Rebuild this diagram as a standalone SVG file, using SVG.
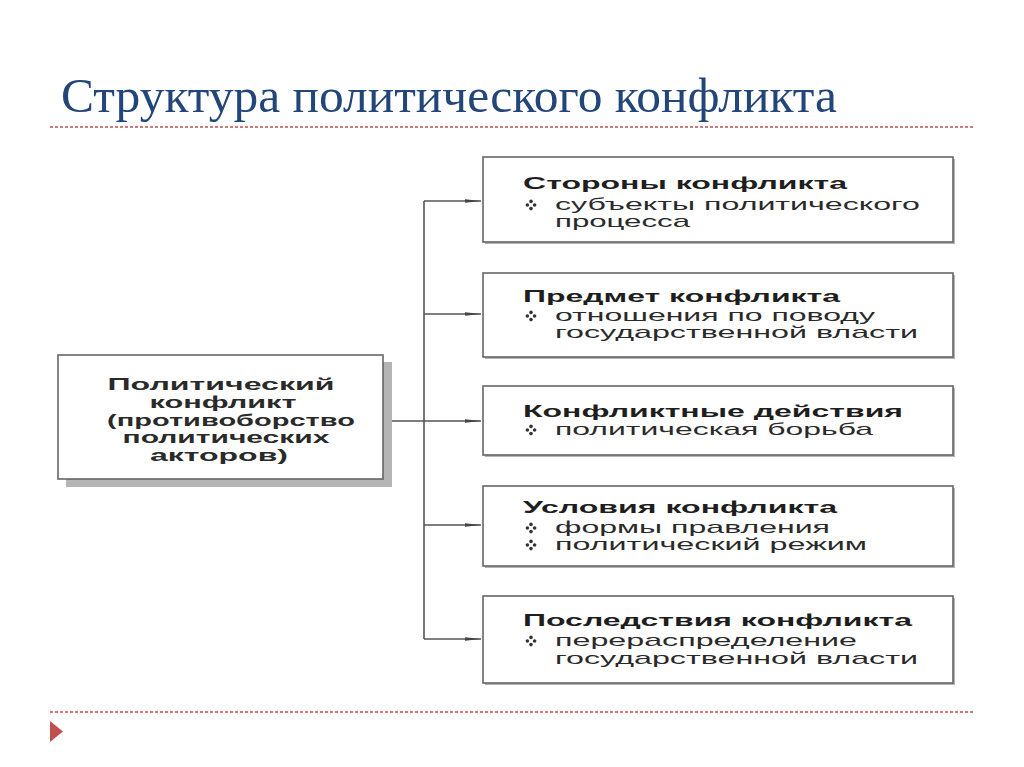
<svg xmlns="http://www.w3.org/2000/svg" width="1024" height="767" viewBox="0 0 1024 767">
<style>
.title{font-family:"Liberation Serif",serif;font-size:48px;fill:#22467a}
.sep{stroke:#c0504d;stroke-width:1.3;stroke-dasharray:3 2;fill:none}
.box{fill:#ffffff;stroke:#666666;stroke-width:1.6}
.bshadow{fill:#b5b5b5}
.h{font-family:"Liberation Sans",Arial,sans-serif;font-weight:bold;font-size:17px;fill:#1e1e1e}
.t{font-family:"Liberation Sans",Arial,sans-serif;font-size:17px;fill:#2a2a2a}
.c{font-family:"Liberation Sans",Arial,sans-serif;font-weight:bold;font-size:17px;fill:#2a2a2a;text-anchor:middle}
.conn{stroke:#555555;stroke-width:1.6;fill:none}
</style>
<defs>
<marker id="arr" viewBox="0 0 16 6" refX="16" refY="3" markerWidth="16" markerHeight="6" markerUnits="userSpaceOnUse" orient="auto">
<path d="M0,1.3 L16,3 L0,4.7 Z" fill="#444444"/>
</marker>
<g id="bul">
<circle cx="0" cy="-3.6" r="1.8" fill="#333"/>
<circle cx="0" cy="3.6" r="1.8" fill="#333"/>
<circle cx="-3.6" cy="0" r="1.8" fill="#333"/>
<circle cx="3.6" cy="0" r="1.8" fill="#333"/>
</g>
</defs>
<rect width="1024" height="767" fill="#ffffff"/>

<g id="title">
<text class="title" x="61" y="112" textLength="776" lengthAdjust="spacingAndGlyphs">Структура политического конфликта</text>
<line class="sep" x1="50" y1="127" x2="975" y2="127"/>
</g>

<g id="connectors">
<line class="conn" x1="383" y1="421" x2="424" y2="421"/>
<line class="conn" x1="424" y1="201" x2="424" y2="639"/>
<line class="conn" x1="424" y1="201" x2="481" y2="201" marker-end="url(#arr)"/>
<line class="conn" x1="424" y1="314" x2="481" y2="314" marker-end="url(#arr)"/>
<line class="conn" x1="424" y1="421" x2="481" y2="421" marker-end="url(#arr)"/>
<line class="conn" x1="424" y1="525" x2="481" y2="525" marker-end="url(#arr)"/>
<line class="conn" x1="424" y1="639" x2="481" y2="639" marker-end="url(#arr)"/>
</g>

<g id="main">
<rect class="bshadow" x="66" y="362" width="326" height="125"/>
<rect class="box" x="58" y="355" width="325" height="124"/>
<text class="c" x="221" y="390" textLength="227" lengthAdjust="spacingAndGlyphs">Политический</text>
<text class="c" x="223" y="408" textLength="147" lengthAdjust="spacingAndGlyphs">конфликт</text>
<text class="c" x="231" y="426" textLength="248" lengthAdjust="spacingAndGlyphs">(противоборство</text>
<text class="c" x="226" y="443" textLength="207" lengthAdjust="spacingAndGlyphs">политических</text>
<text class="c" x="219" y="461" textLength="138" lengthAdjust="spacingAndGlyphs">акторов)</text>
</g>

<g id="n1">
<rect class="bshadow" x="485" y="159" width="470" height="85"/>
<rect class="box" x="483" y="157" width="470" height="85"/>
<text class="h" x="523" y="189" textLength="324" lengthAdjust="spacingAndGlyphs">Стороны конфликта</text>
<use href="#bul" x="531" y="205"/>
<text class="t" x="555" y="210" textLength="365" lengthAdjust="spacingAndGlyphs">субъекты политического</text>
<text class="t" x="555" y="227" textLength="135" lengthAdjust="spacingAndGlyphs">процесса</text>
</g>

<g id="n2">
<rect class="bshadow" x="485" y="275" width="470" height="84"/>
<rect class="box" x="483" y="273" width="470" height="84"/>
<text class="h" x="523" y="302" textLength="317" lengthAdjust="spacingAndGlyphs">Предмет конфликта</text>
<use href="#bul" x="531" y="316"/>
<text class="t" x="555" y="321" textLength="320" lengthAdjust="spacingAndGlyphs">отношения по поводу</text>
<text class="t" x="555" y="338" textLength="363" lengthAdjust="spacingAndGlyphs">государственной власти</text>
</g>

<g id="n3">
<rect class="bshadow" x="485" y="388" width="470" height="69"/>
<rect class="box" x="483" y="386" width="470" height="69"/>
<text class="h" x="523" y="417" textLength="380" lengthAdjust="spacingAndGlyphs">Конфликтные действия</text>
<use href="#bul" x="531" y="430"/>
<text class="t" x="555" y="435" textLength="318" lengthAdjust="spacingAndGlyphs">политическая борьба</text>
</g>

<g id="n4">
<rect class="bshadow" x="485" y="488" width="470" height="80"/>
<rect class="box" x="483" y="486" width="470" height="80"/>
<text class="h" x="523" y="513" textLength="314" lengthAdjust="spacingAndGlyphs">Условия конфликта</text>
<use href="#bul" x="531" y="528"/>
<text class="t" x="555" y="533" textLength="275" lengthAdjust="spacingAndGlyphs">формы правления</text>
<use href="#bul" x="531" y="545"/>
<text class="t" x="555" y="550" textLength="312" lengthAdjust="spacingAndGlyphs">политический режим</text>
</g>

<g id="n5">
<rect class="bshadow" x="485" y="598" width="470" height="87"/>
<rect class="box" x="483" y="596" width="470" height="87"/>
<text class="h" x="523" y="626" textLength="389" lengthAdjust="spacingAndGlyphs">Последствия конфликта</text>
<use href="#bul" x="531" y="641"/>
<text class="t" x="555" y="646" textLength="302" lengthAdjust="spacingAndGlyphs">перераспределение</text>
<text class="t" x="555" y="664" textLength="363" lengthAdjust="spacingAndGlyphs">государственной власти</text>
</g>

<g id="footer">
<line class="sep" x1="50" y1="712" x2="975" y2="712"/>
<polygon points="50,721 63,731.5 50,742" fill="#c0504d"/>
</g>
</svg>
